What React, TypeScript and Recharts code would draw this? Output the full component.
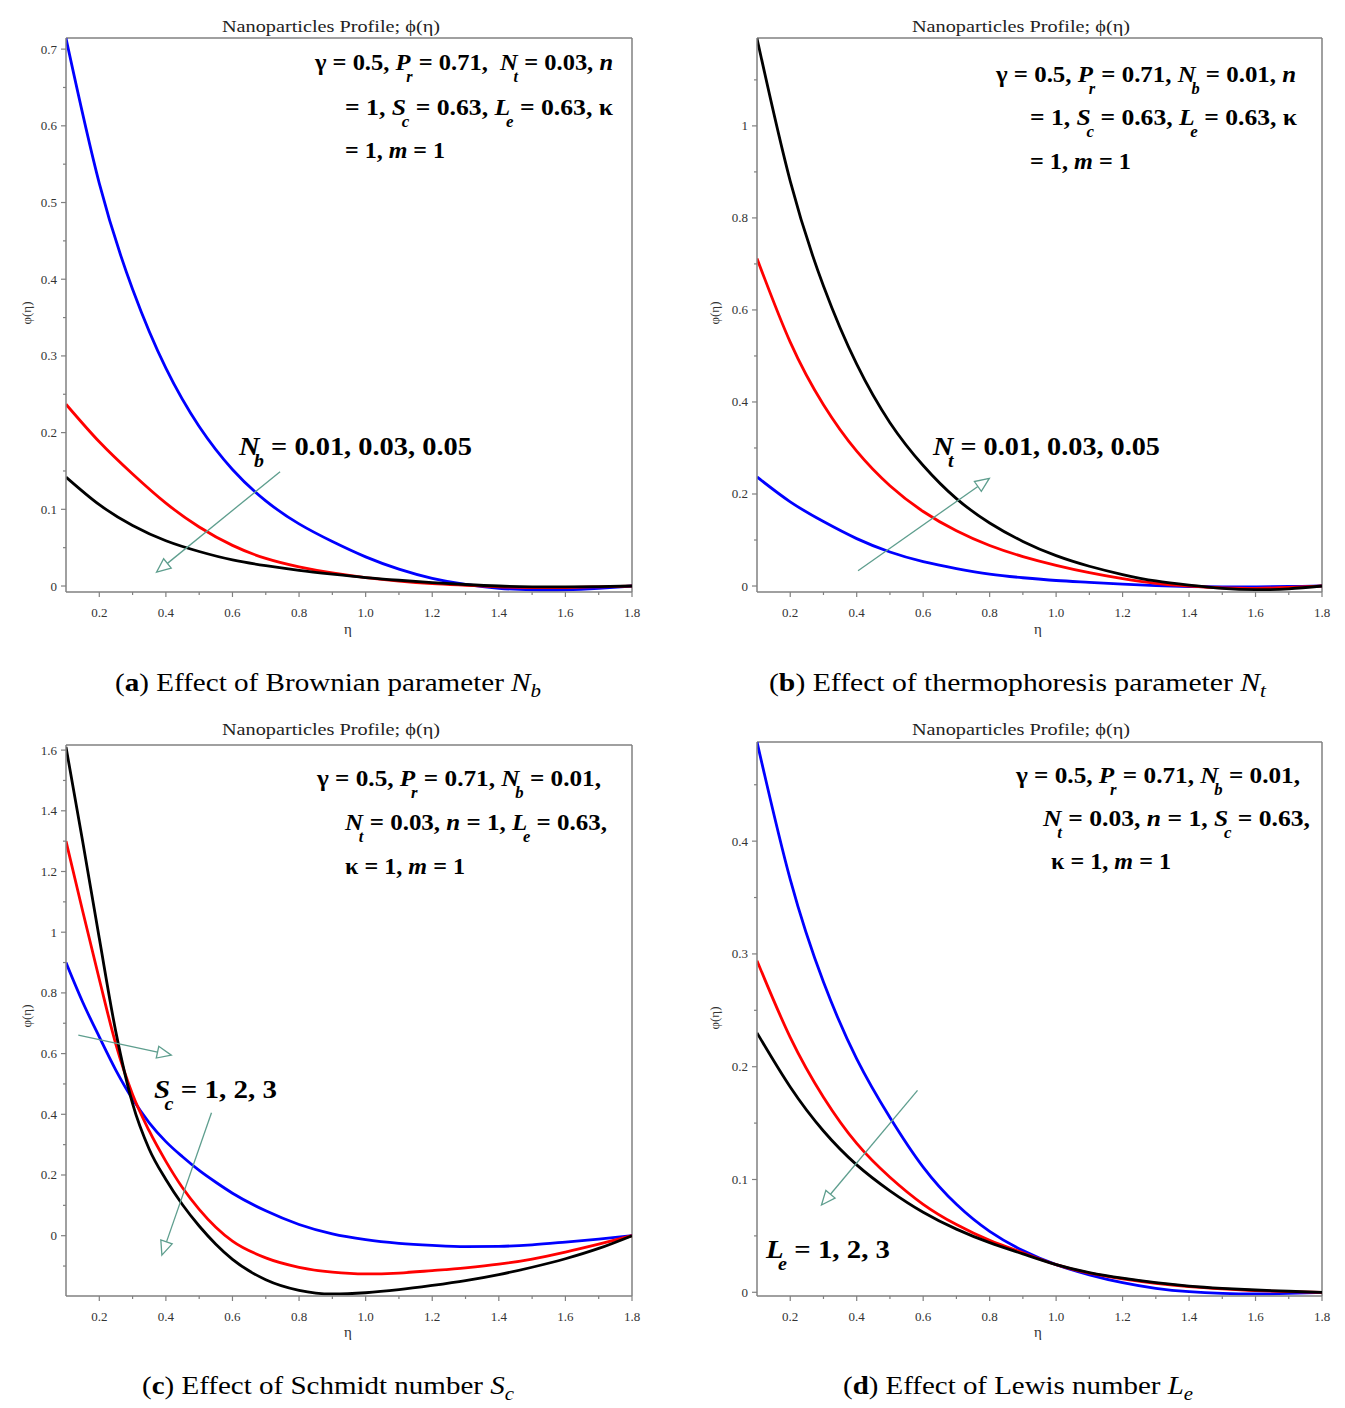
import React from 'react';
import { LineChart, Line, XAxis, YAxis, ReferenceLine } from 'recharts';

// similarity variable η, sampled every 0.1
const ETA = [0.1, 0.2, 0.3, 0.4, 0.5, 0.6, 0.7, 0.8, 0.9, 1.0, 1.1, 1.2, 1.3, 1.4, 1.5, 1.6, 1.7, 1.8];
// finer near the wall for the Schmidt-number panel, where the profiles bend sharply
const ETA_C = [0.1, 0.15, 0.2, 0.25, 0.3, 0.35, 0.4, 0.45, 0.5, 0.55, 0.6, 0.7, 0.8, 0.9, 1.0, 1.1, 1.2, 1.3, 1.4, 1.5, 1.6, 1.7, 1.8];

// (a) Brownian parameter Nb = 0.01 / 0.03 / 0.05
const A_NB_001 = [0.714, 0.525, 0.387, 0.284, 0.208, 0.152, 0.111, 0.081, 0.058, 0.038, 0.022, 0.01, 0.002, -0.003, -0.005, -0.005, -0.003, 0.0];
const A_NB_003 = [0.237, 0.188, 0.146, 0.108, 0.077, 0.053, 0.036, 0.025, 0.017, 0.011, 0.0065, 0.0032, 0.001, -0.001, -0.002, -0.002, -0.001, 0.0];
const A_NB_005 = [0.142, 0.106, 0.079, 0.059, 0.045, 0.034, 0.0265, 0.0205, 0.0155, 0.011, 0.0075, 0.0045, 0.002, 0.0, -0.001, -0.0012, -0.0008, 0.0];

// (b) thermophoresis parameter Nt = 0.01 / 0.03 / 0.05
const B_NT_001 = [0.237, 0.183, 0.14, 0.103, 0.074, 0.053, 0.038, 0.026, 0.018, 0.012, 0.008, 0.004, 0.001, -0.001, -0.002, -0.002, -0.001, 0.0];
const B_NT_003 = [0.712, 0.53, 0.394, 0.293, 0.218, 0.162, 0.12, 0.088, 0.064, 0.045, 0.029, 0.016, 0.006, 0.0, -0.004, -0.005, -0.003, 0.0];
const B_NT_005 = [1.19, 0.88, 0.652, 0.482, 0.355, 0.262, 0.19, 0.137, 0.097, 0.066, 0.043, 0.025, 0.011, 0.002, -0.005, -0.008, -0.006, 0.0];

// (c) Schmidt number Sc = 1 / 2 / 3  (on ETA_C)
const C_SC_1 = [0.9, 0.77, 0.655, 0.545, 0.45, 0.372, 0.31, 0.26, 0.215, 0.176, 0.14, 0.082, 0.037, 0.006, -0.013, -0.025, -0.032, -0.036, -0.035, -0.03, -0.021, -0.011, 0.0];
const C_SC_2 = [1.3, 1.07, 0.845, 0.63, 0.465, 0.345, 0.245, 0.158, 0.087, 0.028, -0.018, -0.073, -0.104, -0.12, -0.126, -0.123, -0.115, -0.106, -0.094, -0.077, -0.054, -0.028, 0.0];
const C_SC_3 = [1.61, 1.3, 0.98, 0.67, 0.435, 0.285, 0.185, 0.102, 0.032, -0.028, -0.078, -0.145, -0.18, -0.192, -0.188, -0.178, -0.164, -0.148, -0.128, -0.104, -0.076, -0.042, 0.0];

// (d) Lewis number Le = 1 / 2 / 3
const D_LE_1 = [0.488, 0.366, 0.275, 0.207, 0.155, 0.111, 0.078, 0.054, 0.037, 0.0245, 0.0155, 0.0085, 0.0035, 0.0005, -0.001, -0.0015, -0.001, 0.0];
const D_LE_2 = [0.294, 0.226, 0.173, 0.132, 0.102, 0.078, 0.06, 0.046, 0.035, 0.0245, 0.017, 0.012, 0.008, 0.005, 0.003, 0.0015, 0.0006, 0.0];
const D_LE_3 = [0.23, 0.182, 0.143, 0.113, 0.09, 0.071, 0.056, 0.044, 0.034, 0.0245, 0.0175, 0.0125, 0.0085, 0.0055, 0.0035, 0.002, 0.0009, 0.0];

// ticks
const X_MAJOR = [0.2, 0.4, 0.6, 0.8, 1.0, 1.2, 1.4, 1.6, 1.8];
const X_LABELS = ['0.2', '0.4', '0.6', '0.8', '1.0', '1.2', '1.4', '1.6', '1.8'];
const X_MINOR = [0.3, 0.5, 0.7, 0.9, 1.1, 1.3, 1.5, 1.7];

const A_Y_MAJOR = [0, 0.1, 0.2, 0.3, 0.4, 0.5, 0.6, 0.7];
const A_Y_LABELS = ['0', '0.1', '0.2', '0.3', '0.4', '0.5', '0.6', '0.7'];
const A_Y_MINOR = [0.05, 0.15, 0.25, 0.35, 0.45, 0.55, 0.65];

const B_Y_MAJOR = [0, 0.2, 0.4, 0.6, 0.8, 1];
const B_Y_LABELS = ['0', '0.2', '0.4', '0.6', '0.8', '1'];
const B_Y_MINOR = [0.1, 0.3, 0.5, 0.7, 0.9, 1.1];

const C_Y_MAJOR = [0, 0.2, 0.4, 0.6, 0.8, 1, 1.2, 1.4, 1.6];
const C_Y_LABELS = ['0', '0.2', '0.4', '0.6', '0.8', '1', '1.2', '1.4', '1.6'];
const C_Y_MINOR = [-0.1, 0.1, 0.3, 0.5, 0.7, 0.9, 1.1, 1.3, 1.5];

const D_Y_MAJOR = [0, 0.1, 0.2, 0.3, 0.4];
const D_Y_LABELS = ['0', '0.1', '0.2', '0.3', '0.4'];
const D_Y_MINOR = [0.05, 0.15, 0.25, 0.35, 0.45];

// arrows showing the direction of increasing parameter (data coordinates)
const A_ARROW = [{ x: 0.743, y: 0.149 }, { x: 0.372, y: 0.018 }];
const B_ARROW = [{ x: 0.404, y: 0.033 }, { x: 0.799, y: 0.234 }];
const C_ARROW_1 = [{ x: 0.137, y: 0.661 }, { x: 0.416, y: 0.595 }];
const C_ARROW_2 = [{ x: 0.537, y: 0.405 }, { x: 0.388, y: -0.064 }];
const D_ARROW = [{ x: 0.583, y: 0.179 }, { x: 0.294, y: 0.0774 }];

const AXIS = '#808080';
const TICK_TEXT = '#333';
const ARROW = '#5e9e8e';
const SERIF = 'Liberation Serif, Times New Roman, serif';
const COLORS = ['#0000ff', '#ff0000', '#000000'];

const findIdx = (list: number[], v: number) => list.findIndex(m => Math.abs(m - v) < 1e-9);

const XTick = (props: any) => {
  const { x, y, payload } = props;
  const i = findIdx(X_MAJOR, payload.value);
  return (
    <g>
      <line x1={x} x2={x} y1={y} y2={y + (i >= 0 ? 5 : 3)} stroke={AXIS} strokeWidth={1.2} />
      {i >= 0 && (
        <text x={x} y={y + 25} textAnchor="middle" fontFamily={SERIF} fontSize={13} fill={TICK_TEXT}>
          {X_LABELS[i]}
        </text>
      )}
    </g>
  );
};

const makeYTick = (major: number[], labels: string[]) => (props: any) => {
  const { x, y, payload } = props;
  const i = findIdx(major, payload.value);
  return (
    <g>
      <line x1={x - (i >= 0 ? 5 : 3)} x2={x} y1={y} y2={y} stroke={AXIS} strokeWidth={1.2} />
      {i >= 0 && (
        <text x={x - 9} y={y + 4.5} textAnchor="end" fontFamily={SERIF} fontSize={13} fill={TICK_TEXT}>
          {labels[i]}
        </text>
      )}
    </g>
  );
};

// thin line with an open triangular head at the end point
const arrowShape = (props: any) => {
  const { x1, y1, x2, y2 } = props;
  const a = Math.atan2(y2 - y1, x2 - x1);
  const L = 14;
  const W = 6;
  const bx = x2 - L * Math.cos(a);
  const by = y2 - L * Math.sin(a);
  const px = W * Math.sin(a);
  const py = W * Math.cos(a);
  return (
    <g>
      <line x1={x1} y1={y1} x2={bx} y2={by} stroke={ARROW} strokeWidth={1.3} />
      <polygon
        points={`${x2},${y2} ${bx + px},${by - py} ${bx - px},${by + py}`}
        fill="#fff"
        stroke={ARROW}
        strokeWidth={1.3}
      />
    </g>
  );
};

type Box = { x0: number; y0: number; x1: number; y1: number };

function Panel(props: {
  box: Box;
  eta: number[];
  curve: 'natural' | 'monotone';
  yDomain: [number, number];
  series: number[][];
  yMajor: number[];
  yLabels: string[];
  yMinor: number[];
  arrows: { x: number; y: number }[][];
}) {
  const { box, eta, curve, yDomain, series, yMajor, yLabels, yMinor, arrows } = props;
  const rows = eta.map((e, i) => ({ eta: e, s0: series[0][i], s1: series[1][i], s2: series[2][i] }));
  const yTicks = [...yMajor, ...yMinor].sort((p, q) => p - q);
  const xTicks = [...X_MAJOR, ...X_MINOR].sort((p, q) => p - q);
  return (
    <div style={{ position: 'absolute', left: box.x0 - 50, top: box.y0 - 40 }}>
      <LineChart
        width={box.x1 - box.x0 + 80}
        height={box.y1 - box.y0 + 90}
        data={rows}
        margin={{ top: 40, right: 30, left: 10, bottom: 20 }}
      >
        <XAxis
          dataKey="eta"
          type="number"
          domain={[0.1, 1.8]}
          allowDataOverflow
          ticks={xTicks}
          interval={0}
          height={30}
          tickSize={0}
          tickMargin={0}
          tickLine={false}
          tick={XTick}
          axisLine={{ stroke: AXIS, strokeWidth: 1.5 }}
        />
        <YAxis
          type="number"
          domain={yDomain}
          allowDataOverflow
          ticks={yTicks}
          interval={0}
          width={40}
          tickSize={0}
          tickMargin={0}
          tickLine={false}
          tick={makeYTick(yMajor, yLabels)}
          axisLine={{ stroke: AXIS, strokeWidth: 1.5 }}
        />
        <ReferenceLine y={yDomain[1]} stroke={AXIS} strokeWidth={1.5} />
        <ReferenceLine x={1.8} stroke={AXIS} strokeWidth={1.5} />
        {['s0', 's1', 's2'].map((k, i) => (
          <Line
            key={k}
            dataKey={k}
            type={curve}
            stroke={COLORS[i]}
            strokeWidth={2.8}
            dot={false}
            activeDot={false}
            isAnimationActive={false}
          />
        ))}
        {arrows.map((seg, k) => (
          <ReferenceLine key={k} segment={seg} ifOverflow="visible" shape={arrowShape} />
        ))}
      </LineChart>
    </div>
  );
}

// '*' toggles italic, '#' toggles bold, '_x' sets x as a subscript
type Run = { t: string; i: boolean; b: boolean; s: boolean };
function parseRuns(src: string): Run[] {
  const runs: Run[] = [];
  let it = false;
  let bd = false;
  let buf = '';
  const flush = () => {
    if (buf) runs.push({ t: buf, i: it, b: bd, s: false });
    buf = '';
  };
  for (let k = 0; k < src.length; k++) {
    const c = src[k];
    if (c === '*') { flush(); it = !it; }
    else if (c === '#') { flush(); bd = !bd; }
    else if (c === '_') { flush(); runs.push({ t: src[k + 1], i: true, b: bd, s: true }); k++; }
    else buf += c;
  }
  flush();
  return runs;
}

function RichText(props: {
  x: number; y: number; src: string; size: number; width?: number;
  bold?: boolean; drop: number; subScale?: number; subDx?: number; anchor?: string;
}) {
  const { x, y, src, size, width, bold, drop, subScale = 0.7, subDx = 0, anchor = 'start' } = props;
  const runs = parseRuns(src);
  let low = false;
  return (
    <text
      x={x}
      y={y}
      fontFamily={SERIF}
      fontSize={size}
      fontWeight={bold ? 'bold' : 'normal'}
      textAnchor={anchor}
      textLength={width}
      lengthAdjust="spacingAndGlyphs"
      fill="#000"
      style={{ whiteSpace: 'pre' }}
    >
      {runs.map((r, k) => {
        const dy = r.s && !low ? drop : !r.s && low ? -drop : 0;
        const dx = r.s ? subDx : 0;
        low = r.s;
        return (
          <tspan
            key={k}
            dy={dy || undefined}
            dx={dx || undefined}
            fontStyle={r.i ? 'italic' : 'normal'}
            fontWeight={r.b ? 'bold' : undefined}
            fontSize={r.s ? size * subScale : undefined}
          >
            {r.t}
          </tspan>
        );
      })}
    </text>
  );
}

const PARAM_LINES = [
  { x: 315, y: 70, w: 298, src: 'γ = 0.5, *P*_r = 0.71,  *N*_t = 0.03, *n*' },
  { x: 345, y: 115, w: 268, src: '= 1, *S*_c = 0.63, *L*_e = 0.63, κ' },
  { x: 345, y: 158, w: 100, src: '= 1, *m* = 1' },
  { x: 996, y: 82, w: 300, src: 'γ = 0.5, *P*_r = 0.71, *N*_b = 0.01, *n*' },
  { x: 1030, y: 125, w: 267, src: '= 1, *S*_c = 0.63, *L*_e = 0.63, κ' },
  { x: 1030, y: 169, w: 101, src: '= 1, *m* = 1' },
  { x: 317, y: 786, w: 284, src: 'γ = 0.5, *P*_r = 0.71, *N*_b = 0.01,' },
  { x: 345, y: 830, w: 262, src: '*N*_t = 0.03, *n* = 1, *L*_e = 0.63,' },
  { x: 345, y: 874, w: 120, src: 'κ = 1, *m* = 1' },
  { x: 1016, y: 783, w: 284, src: 'γ = 0.5, *P*_r = 0.71, *N*_b = 0.01,' },
  { x: 1043, y: 826, w: 267, src: '*N*_t = 0.03, *n* = 1, *S*_c = 0.63,' },
  { x: 1051, y: 869, w: 120, src: 'κ = 1, *m* = 1' },
];

const CURVE_LABELS = [
  { x: 239, y: 455, w: 233, src: '*N*_b = 0.01, 0.03, 0.05' },
  { x: 933, y: 455, w: 227, src: '*N*_t = 0.01, 0.03, 0.05' },
  { x: 154, y: 1098, w: 123, src: '*S*_c = 1, 2, 3' },
  { x: 766, y: 1258, w: 124, src: '*L*_e = 1, 2, 3' },
];

const CAPTIONS = [
  { x: 115, y: 691, w: 426, src: '(#a#) Effect of Brownian parameter *N*_b' },
  { x: 769, y: 691, w: 497, src: '(#b#) Effect of thermophoresis parameter *N*_t' },
  { x: 142, y: 1394, w: 372, src: '(#c#) Effect of Schmidt number *S*_c' },
  { x: 843, y: 1394, w: 350, src: '(#d#) Effect of Lewis number *L*_e' },
];

const TITLE_POS = [
  { x: 331, y: 32 },
  { x: 1021, y: 32 },
  { x: 331, y: 735 },
  { x: 1021, y: 735 },
];
const YLABEL_POS = [
  { x: 31, y: 313 },
  { x: 719, y: 313 },
  { x: 31, y: 1016 },
  { x: 719, y: 1018 },
];
const XLABEL_POS = [
  { x: 348, y: 634 },
  { x: 1038, y: 634 },
  { x: 348, y: 1337 },
  { x: 1038, y: 1337 },
];

function Labels() {
  return (
    <svg
      width={1345}
      height={1408}
      style={{ position: 'absolute', left: 0, top: 0, pointerEvents: 'none' }}
    >
      {TITLE_POS.map((p, k) => (
        <text key={'t' + k} x={p.x} y={p.y} textAnchor="middle" fontFamily={SERIF} fontSize={16}
          textLength={218} lengthAdjust="spacingAndGlyphs" fill="#222">
          Nanoparticles Profile; ϕ(η)
        </text>
      ))}
      {YLABEL_POS.map((p, k) => (
        <text key={'y' + k} x={p.x} y={p.y} textAnchor="middle" fontFamily={SERIF} fontSize={13}
          fill={TICK_TEXT} transform={`rotate(-90 ${p.x} ${p.y})`}>
          φ(η)
        </text>
      ))}
      {XLABEL_POS.map((p, k) => (
        <text key={'x' + k} x={p.x} y={p.y} textAnchor="middle" fontFamily={SERIF} fontSize={15} fill={TICK_TEXT}>
          η
        </text>
      ))}
      {PARAM_LINES.map((l, k) => (
        <RichText key={'p' + k} x={l.x} y={l.y} width={l.w} src={l.src} size={24} bold drop={12} subScale={0.66} subDx={-4} />
      ))}
      {CURVE_LABELS.map((l, k) => (
        <RichText key={'c' + k} x={l.x} y={l.y} width={l.w} src={l.src} size={26} bold drop={12} subScale={0.7} subDx={-5} />
      ))}
      {CAPTIONS.map((l, k) => (
        <RichText key={'f' + k} x={l.x} y={l.y} width={l.w} src={l.src} size={26} drop={6} subScale={0.72} />
      ))}
    </svg>
  );
}

export default function App() {
  return (
    <div style={{ position: 'absolute', left: 0, top: 0, width: 1345, height: 1408, background: '#fff', overflow: 'hidden' }}>
      <Panel
        box={{ x0: 66, y0: 38, x1: 632, y1: 592 }}
        eta={ETA}
        curve="natural"
        yDomain={[-0.0078, 0.7145]}
        series={[A_NB_001, A_NB_003, A_NB_005]}
        yMajor={A_Y_MAJOR}
        yLabels={A_Y_LABELS}
        yMinor={A_Y_MINOR}
        arrows={[A_ARROW]}
      />
      <Panel
        box={{ x0: 757, y0: 38, x1: 1322, y1: 592 }}
        eta={ETA}
        curve="natural"
        yDomain={[-0.013, 1.191]}
        series={[B_NT_001, B_NT_003, B_NT_005]}
        yMajor={B_Y_MAJOR}
        yLabels={B_Y_LABELS}
        yMinor={B_Y_MINOR}
        arrows={[B_ARROW]}
      />
      <Panel
        box={{ x0: 66, y0: 745, x1: 632, y1: 1296 }}
        eta={ETA_C}
        curve="monotone"
        yDomain={[-0.1987, 1.6168]}
        series={[C_SC_1, C_SC_2, C_SC_3]}
        yMajor={C_Y_MAJOR}
        yLabels={C_Y_LABELS}
        yMinor={C_Y_MINOR}
        arrows={[C_ARROW_1, C_ARROW_2]}
      />
      <Panel
        box={{ x0: 757, y0: 742, x1: 1322, y1: 1296 }}
        eta={ETA}
        curve="natural"
        yDomain={[-0.0033, 0.4879]}
        series={[D_LE_1, D_LE_2, D_LE_3]}
        yMajor={D_Y_MAJOR}
        yLabels={D_Y_LABELS}
        yMinor={D_Y_MINOR}
        arrows={[D_ARROW]}
      />
      <Labels />
    </div>
  );
}
